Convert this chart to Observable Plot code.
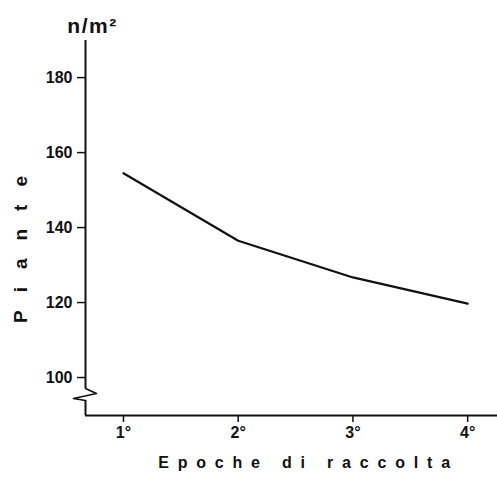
<!DOCTYPE html>
<html>
<head>
<meta charset="utf-8">
<script src="https://cdn.jsdelivr.net/npm/d3@7"></script>
<script src="https://cdn.jsdelivr.net/npm/@observablehq/plot@0.6"></script>
<style>
  html, body { margin: 0; padding: 0; background: #fff; }
  svg { font-family: "Liberation Sans", Arial, sans-serif; }
</style>
</head>
<body>
<div id="chart"></div>
<script>
// Data
const epoche = [1, 2, 3, 4];
const epocheLabels = ["1°", "2°", "3°", "4°"];
const piante = [154.5, 136.5, 126.7, 119.7];
const yTicks = [100, 120, 140, 160, 180];

const xDomain = [0.669, 4.26];
const yDomain = [89.87, 189.9];

// axis break zigzag (in data units)
const breakX = [xDomain[0], 0.765, 0.564, xDomain[0]];
const breakY = [97.07, 95.73, 94.4, 93.87];

const data = epoche.map((e, i) => ({x: e, y: piante[i]}));
const zig = breakX.map((x, i) => ({x, y: breakY[i]}));

const fontBold = {fontWeight: "bold", fill: "#111"};

const chart = Plot.plot({
  width: 497,
  height: 488,
  marginLeft: 85,
  marginRight: 0,
  marginTop: 40,
  marginBottom: 73,
  x: {domain: xDomain},
  y: {domain: yDomain},
  style: {fontFamily: "'Liberation Sans', Arial, sans-serif", color: "#111"},
  marks: [
    // y axis line with break
    Plot.ruleX([xDomain[0]], {y1: breakY[0], y2: yDomain[1], stroke: "#111", strokeWidth: 2}),
    Plot.ruleX([xDomain[0]], {y1: yDomain[0], y2: breakY[3], stroke: "#111", strokeWidth: 2}),
    Plot.line(zig, {x: "x", y: "y", stroke: "#111", strokeWidth: 1.6}),
    // x axis line
    Plot.ruleY([yDomain[0]], {stroke: "#111", strokeWidth: 1.8}),
    Plot.axisY({ticks: yTicks, tickSize: 8, tickPadding: 5, fontSize: 16, fontWeight: "bold", label: null, strokeWidth: 1.5}),
    Plot.axisX({ticks: epoche, tickFormat: (d) => epocheLabels[epoche.indexOf(d)], tickSize: 7, tickPadding: 4, fontSize: 16, fontWeight: "bold", label: null, strokeWidth: 1.5}),
    Plot.line(data, {x: "x", y: "y", stroke: "#111", strokeWidth: 2.2}),
    // labels
    Plot.text(["n/m²"], {frameAnchor: "top-left", text: (d) => d, textAnchor: "middle", lineAnchor: "bottom", dx: 7, dy: -8, fontSize: 21, ...fontBold}),
    Plot.text(["Piante"], {frameAnchor: "left", text: (d) => d, rotate: -90, textAnchor: "middle", lineAnchor: "middle", dx: -65, dy: 12.5, fontSize: 19, ...fontBold}),
    Plot.text(["Epoche di raccolta"], {frameAnchor: "bottom", text: (d) => d, textAnchor: "middle", lineAnchor: "middle", dx: 17, dy: 47, fontSize: 16, ...fontBold})
  ]
});

// letter spacing for the spaced-out axis titles
d3.select(chart).selectAll("text").each(function() {
  const t = this.textContent;
  if (t === "Piante") d3.select(this).style("letter-spacing", "18px");
  if (t === "Epoche di raccolta") d3.select(this).style("letter-spacing", "8.8px");
  if (t === "n/m²") d3.select(this).style("letter-spacing", "1.5px");
});

document.getElementById("chart").appendChild(chart);
</script>
</body>
</html>
